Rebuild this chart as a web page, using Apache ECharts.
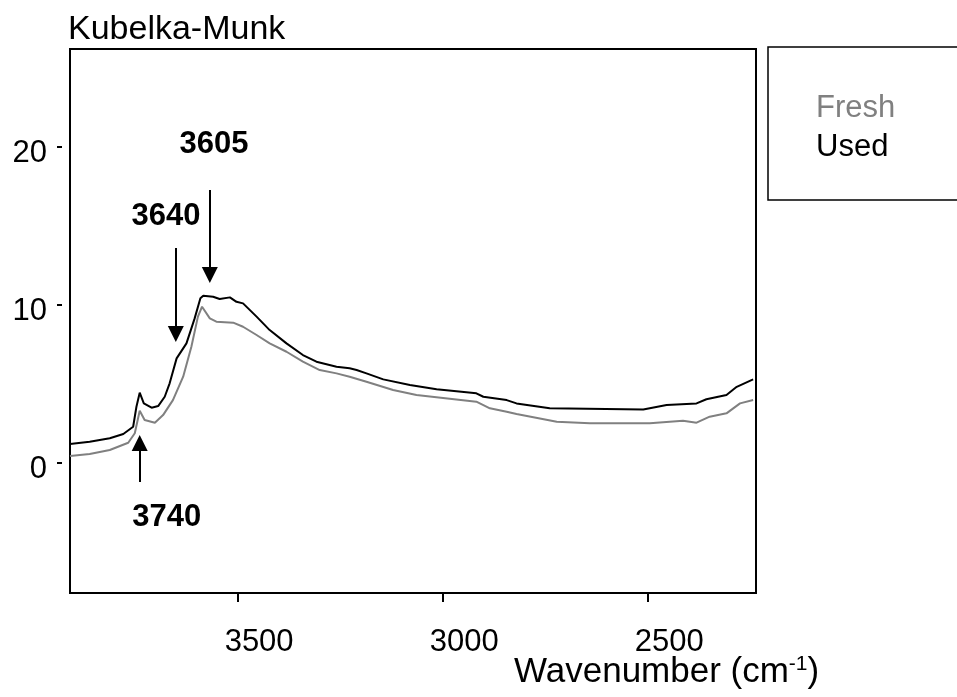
<!DOCTYPE html>
<html>
<head>
<meta charset="utf-8">
<script src="https://cdn.jsdelivr.net/npm/echarts@6/dist/echarts.min.js"></script>
<style>html,body{margin:0;padding:0;background:#fff;}#chart{width:957px;height:697px;}</style>
</head>
<body>
<div id="chart"></div>
<script>
// ---- data ----
var xTicks = [3500, 3000, 2500];
var yTicks = [0, 10, 20];
var seriesNames = ['Fresh', 'Used'];

var usedWavenumber = [3910, 3862, 3813, 3780, 3756, 3748, 3740, 3730, 3711, 3695, 3679, 3667, 3650, 3626, 3606, 3592, 3585, 3561, 3545, 3520, 3504, 3488, 3455, 3423, 3382, 3342, 3309, 3260, 3228, 3211, 3187, 3146, 3081, 3016, 2919, 2902, 2845, 2821, 2740, 2512, 2455, 2382, 2358, 2309, 2284, 2244];
var usedKM = [1.16, 1.30, 1.52, 1.79, 2.25, 3.52, 4.41, 3.73, 3.46, 3.56, 4.15, 5.00, 6.58, 7.53, 9.11, 10.38, 10.54, 10.48, 10.34, 10.44, 10.16, 10.06, 9.22, 8.37, 7.53, 6.79, 6.37, 6.05, 5.95, 5.84, 5.63, 5.25, 4.89, 4.62, 4.37, 4.15, 3.94, 3.73, 3.42, 3.35, 3.63, 3.73, 3.99, 4.26, 4.78, 5.25];

var freshWavenumber = [3910, 3862, 3813, 3768, 3752, 3740, 3728, 3703, 3683, 3659, 3634, 3614, 3598, 3588, 3569, 3553, 3512, 3488, 3455, 3423, 3382, 3342, 3301, 3260, 3228, 3187, 3122, 3065, 2919, 2886, 2845, 2821, 2723, 2642, 2496, 2415, 2382, 2350, 2309, 2276, 2244];
var freshKM = [0.40, 0.53, 0.78, 1.24, 1.84, 3.27, 2.68, 2.51, 2.99, 3.94, 5.42, 7.32, 9.22, 9.85, 9.11, 8.90, 8.84, 8.58, 8.06, 7.53, 7.00, 6.37, 5.84, 5.63, 5.42, 5.10, 4.58, 4.26, 3.84, 3.42, 3.20, 3.06, 2.57, 2.47, 2.47, 2.63, 2.51, 2.89, 3.10, 3.73, 3.94];

// annotations: label text, label anchor, arrow x and arrow start/end (data units)
var annoText   = ['3605', '3640', '3740'];
var annoLabelX = [3559, 3676, 3674];
var annoLabelY = [20.15, 15.59, -3.46];
var annoArrowX = [3569, 3652, 3740];
var annoArrowY0 = [17.23, 13.56, -1.25];
var annoArrowY1 = [11.85, 8.12, 1.22];

// ---- build ----
function pairs(xs, ys) { return xs.map(function (x, i) { return [x, ys[i]]; }); }

var FONT = 'Liberation Sans, Arial, sans-serif';

var arrowLines = annoArrowX.map(function (x, i) {
  return [{ coord: [x, annoArrowY0[i]] }, { coord: [x, annoArrowY1[i]] }];
});
var annoPoints = annoText.map(function (t, i) {
  return { name: t, coord: [annoLabelX[i], annoLabelY[i]] };
});

var chart = echarts.init(document.getElementById('chart'), null, { renderer: 'canvas' });
chart.setOption({
  animation: false,
  backgroundColor: '#fff',
  textStyle: { fontFamily: FONT },
  title: [
    { text: 'Kubelka-Munk', left: 68, top: 13, padding: 0,
      textStyle: { fontFamily: FONT, fontSize: 34, fontWeight: 'normal', color: '#000' } },
    { text: 'Wavenumber (cm{sup|-1})', left: 514, top: 654, padding: 0,
      textStyle: { fontFamily: FONT, fontSize: 35, fontWeight: 'normal', color: '#000',
        rich: { sup: { fontFamily: FONT, fontSize: 21, color: '#000', verticalAlign: 'top', padding: [0, 0, 15, 0] } } } }
  ],
  legend: {
    orient: 'vertical', left: 768, top: 47,
    padding: [46, 80, 37, 31],
    itemWidth: 0, itemHeight: 30, itemGap: 8,
    borderColor: '#000', borderWidth: 1.5,
    itemStyle: { opacity: 0 }, lineStyle: { opacity: 0 },
    textStyle: { fontFamily: FONT, fontSize: 31 },
    data: [
      { name: seriesNames[0], textStyle: { color: '#808080' } },
      { name: seriesNames[1], textStyle: { color: '#000' } }
    ]
  },
  grid: { left: 70, right: 201, top: 49, bottom: 104, show: true, borderColor: '#000', borderWidth: 2, backgroundColor: 'transparent' },
  xAxis: {
    type: 'value', inverse: true, min: 2237, max: 3910,
    axisLine: { show: true, onZero: false, lineStyle: { color: '#000', width: 2 } },
    axisTick: { show: true, inside: false, length: 9, customValues: xTicks, lineStyle: { color: '#000', width: 2 } },
    axisLabel: { customValues: xTicks, margin: 34, fontFamily: FONT, fontSize: 31, color: '#000', padding: [0, 0, 0, 42],
      formatter: function (v) { return String(v); } },
    splitLine: { show: false }
  },
  yAxis: {
    type: 'value', min: -8.27, max: 26.16, offset: 8,
    axisLine: { show: false, onZero: false },
    axisTick: { show: true, inside: false, length: 5, customValues: yTicks, lineStyle: { color: '#000', width: 2 } },
    axisLabel: { customValues: yTicks, margin: 15, fontFamily: FONT, fontSize: 31, color: '#000',
      verticalAlign: 'top', lineHeight: 14, formatter: function (v) { return String(v); } },
    splitLine: { show: false }
  },
  series: [
    { name: seriesNames[0], type: 'line', data: pairs(freshWavenumber, freshKM), symbol: 'none',
      lineStyle: { color: '#808080', width: 2 }, itemStyle: { color: '#808080' } },
    { name: seriesNames[1], type: 'line', data: pairs(usedWavenumber, usedKM), symbol: 'none',
      lineStyle: { color: '#000', width: 2 }, itemStyle: { color: '#000' },
      markLine: {
        silent: true, symbol: ['none', 'triangle'], symbolSize: 16,
        lineStyle: { color: '#000', width: 2, type: 'solid' },
        itemStyle: { color: '#000' },
        label: { show: false },
        data: arrowLines
      },
      markPoint: {
        silent: true, symbol: 'circle', symbolSize: 1, itemStyle: { color: 'rgba(0,0,0,0)' },
        label: { show: true, position: 'inside', formatter: '{b}', fontFamily: FONT, fontSize: 31, fontWeight: 'bold', color: '#000' },
        data: annoPoints
      }
    }
  ]
});
</script>
</body>
</html>
